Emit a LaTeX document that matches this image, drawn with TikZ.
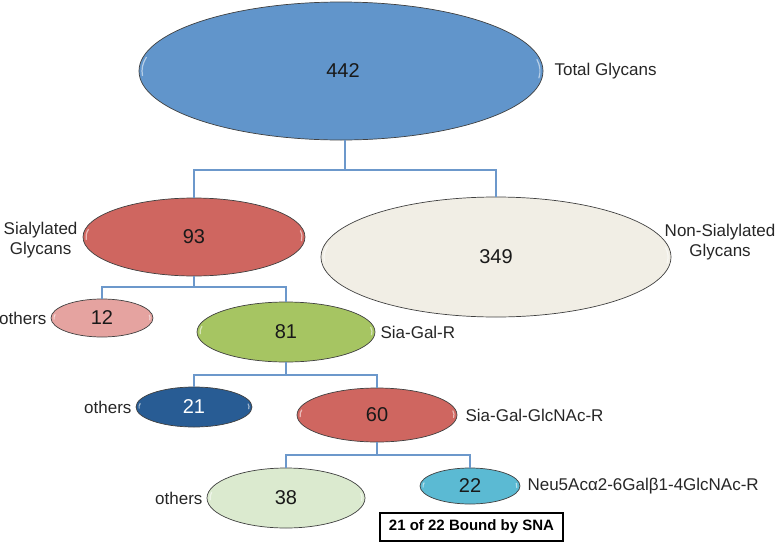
\documentclass[tikz,border=0pt]{standalone}
\usepackage{fontspec}
\setmainfont{Liberation Sans}
\usetikzlibrary{shapes.geometric,positioning}
\definecolor{totblue}{RGB}{97,149,203}
\definecolor{siared}{RGB}{207,102,96}
\definecolor{nonbeige}{RGB}{241,238,229}
\definecolor{othpink}{RGB}{229,163,160}
\definecolor{galgreen}{RGB}{166,197,98}
\definecolor{othblue}{RGB}{40,92,148}
\definecolor{othgreen}{RGB}{219,234,207}
\definecolor{neucyan}{RGB}{91,186,211}
\definecolor{linkblue}{RGB}{108,152,203}
\tikzset{
  blob/.style 2 args={ellipse, draw=black!75, line width=.7pt, inner sep=0pt,
    minimum width=#1, minimum height=#2, text=black!90, font=\fontsize{20}{24}\selectfont,
    path picture={
      \draw[white, opacity=.55, line width=1.2pt, line cap=round]
        (path picture bounding box.center) ++(168:{#1/2-3pt} and {#2/2-3pt})
        arc[start angle=168, end angle=184, x radius={#1/2-3pt}, y radius={#2/2-3pt}];
      \draw[white, opacity=.55, line width=1.2pt, line cap=round]
        (path picture bounding box.center) ++(-6:{#1/2-3pt} and {#2/2-3pt})
        arc[start angle=-6, end angle=10, x radius={#1/2-3pt}, y radius={#2/2-3pt}];
    }},
  lbl/.style={inner sep=0pt, text=black!85, font=\fontsize{17}{19.5}\selectfont, align=center},
  link/.style={draw=linkblue, line width=2pt},
  snabox/.style={draw=black, line width=1.6pt, font=\bfseries\fontsize{15}{18}\selectfont, minimum width=183pt, minimum height=28pt, inner sep=0pt}
}

\begin{document}
\begin{tikzpicture}[x=1pt,y=-1pt]
\useasboundingbox (0,0) rectangle (777,544);

\node[blob={404pt}{138pt}, fill=totblue] (tot) at (341,71) {\hspace*{4pt}442};
\node[blob={222pt}{78pt}, fill=siared] (sia) at (194,237) {93};
\node[blob={350pt}{120pt}, fill=nonbeige] (non) at (496,257) {349};
\node[blob={102pt}{38pt}, fill=othpink] (oth1) at (102,318) {12};
\node[blob={178pt}{60pt}, fill=galgreen] (gal) at (286,332) {81};
\node[blob={116pt}{40pt}, fill=othblue, text=white] (oth2) at (194,407) {21};
\node[blob={160pt}{54pt}, fill=siared] (glc) at (377,415) {60};
\node[blob={158pt}{60pt}, fill=othgreen] (oth3) at (286,498) {38};
\node[blob={100pt}{36pt}, fill=neucyan] (neu) at (470,486) {22};

\node[lbl, right=11pt of tot] (totlbl) {Total Glycans};
\node[lbl, left=5pt of sia, yshift=-3pt] (sialbl) {Sialylated\\Glycans};
\node[lbl] (nonlbl) at (720,242) {Non-Sialylated\\Glycans};
\node[lbl, left=4pt of oth1] (oth1lbl) {others};
\node[lbl, right=5pt of gal] (gallbl) {Sia-Gal-R};
\node[lbl, left=4pt of oth2] (oth2lbl) {others};
\node[lbl, right=8pt of glc] (glclbl) {Sia-Gal-GlcNAc-R};
\node[lbl, left=4pt of oth3] (oth3lbl) {others};
\node[lbl, right=7pt of neu] (neulbl) {Neu5Acα2-6Galβ1-4GlcNAc-R};

\node[snabox] (sna) at (471.5,527) {21 of 22 Bound by SNA};

\coordinate (b1) at (345,170);
\coordinate (b2) at (194,287);
\coordinate (b3) at (286,375);
\coordinate (b4) at (377,455);
\draw[link] (tot.south -| b1) -- (b1) -| (sia.north);
\draw[link] (b1) -| (non.north);
\draw[link] (sia.south) -- (b2) -| (oth1.north);
\draw[link] (b2) -| (gal.north);
\draw[link] (gal.south) -- (b3) -| (oth2.north);
\draw[link] (b3) -| (glc.north);
\draw[link] (glc.south) -- (b4) -| (oth3.north);
\draw[link] (b4) -| (neu.north);
\end{tikzpicture}
\end{document}
